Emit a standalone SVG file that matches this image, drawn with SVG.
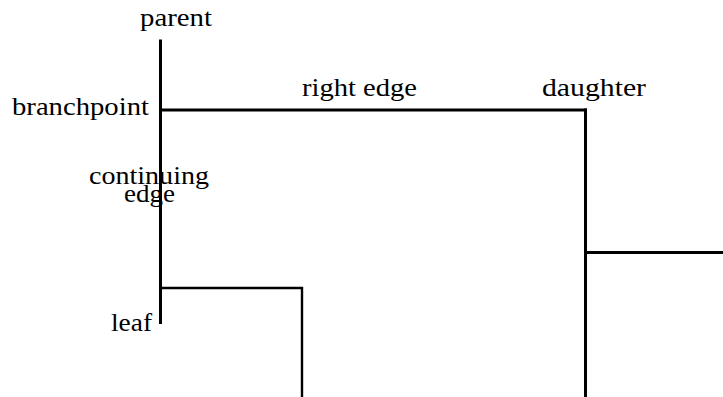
<svg xmlns="http://www.w3.org/2000/svg" width="723" height="397" viewBox="0 0 723 397">
<style>
.t{font-family:"Liberation Serif","DejaVu Serif",serif;font-size:25px;fill:#000}
.e{stroke:#000;stroke-width:3;fill:none;stroke-linecap:butt}
.e2{stroke:#000;stroke-width:2.4;fill:none}
</style>
<rect width="723" height="397" fill="#fff"/>
<g id="connectors">
<line class="e" x1="160.5" y1="39.5" x2="160.5" y2="324"/>
<line class="e" x1="160.5" y1="110" x2="587" y2="110"/>
<line class="e" x1="585.5" y1="108.5" x2="585.5" y2="397"/>
<line class="e" x1="585.5" y1="252.5" x2="723" y2="252.5"/>
<line class="e2" x1="160.5" y1="288" x2="303" y2="288"/>
<line class="e2" x1="302" y1="287" x2="302" y2="397"/>
</g>
<g id="parent"><text class="t" x="140" y="26" textLength="72" lengthAdjust="spacingAndGlyphs">parent</text></g>
<g id="branchpoint"><text class="t" x="12" y="115" textLength="137" lengthAdjust="spacingAndGlyphs">branchpoint</text></g>
<g id="continuing-edge"><text class="t" x="89" y="184" textLength="120" lengthAdjust="spacingAndGlyphs">continuing</text><text class="t" x="124" y="202" textLength="51" lengthAdjust="spacingAndGlyphs">edge</text></g>
<g id="leaf"><text class="t" x="111" y="331" textLength="41" lengthAdjust="spacingAndGlyphs">leaf</text></g>
<g id="right-edge"><text class="t" x="302" y="96" textLength="115" lengthAdjust="spacingAndGlyphs">right edge</text></g>
<g id="daughter"><text class="t" x="542" y="96" textLength="104" lengthAdjust="spacingAndGlyphs">daughter</text></g>
</svg>
